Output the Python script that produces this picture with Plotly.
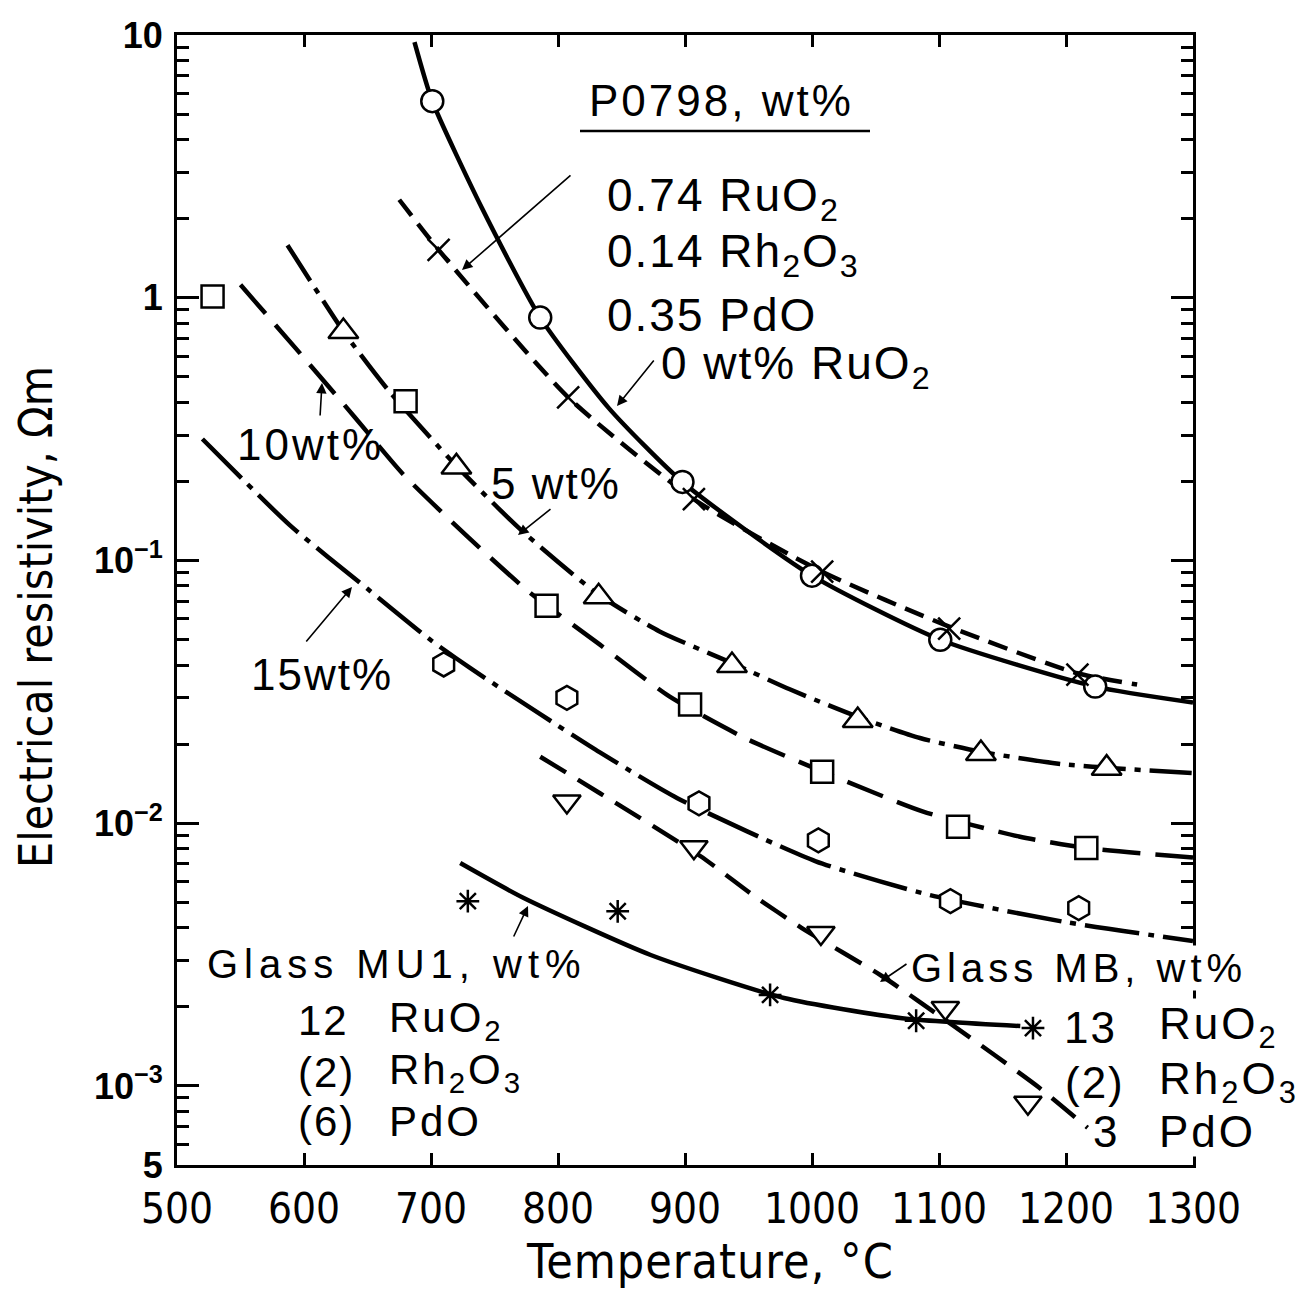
import plotly.graph_objects as go

# ---------------- data ----------------
# 0 wt% RuO2 (open circles, solid curve)
T_ru0 = [701, 786, 898, 1000, 1101, 1223]
R_ru0 = [5.6, 0.84, 0.199, 0.0875, 0.0499, 0.0331]
T_ru0_curve = [687, 701, 740, 786, 840, 898, 1000, 1101, 1223, 1300]
R_ru0_curve = [9.4, 5.6, 2.2, 0.84, 0.38, 0.199, 0.0875, 0.0499, 0.0331, 0.0288]

# P0798 (x marks, dashed curve)
T_p0798 = [706, 808, 907, 1008, 1108, 1209]
R_p0798 = [1.52, 0.418, 0.171, 0.0906, 0.055, 0.0368]
T_p0798_curve = [675, 706, 808, 907, 1008, 1108, 1209, 1256]
R_p0798_curve = [2.36, 1.52, 0.418, 0.171, 0.0906, 0.056, 0.0372, 0.0337]

# 5 wt% (triangles, dash-dot curve)
T_ru5 = [631, 720, 832, 937, 1036, 1133, 1232]
R_ru5 = [0.744, 0.227, 0.0728, 0.0398, 0.0246, 0.0184, 0.0162]
T_ru5_curve = [587, 631, 666, 720, 770, 832, 880, 937, 982, 1036, 1085, 1133, 1196, 1300]
R_ru5_curve = [1.585, 0.745, 0.447, 0.229, 0.1318, 0.0741, 0.0537, 0.0407, 0.0324, 0.0254,
               0.0211, 0.0187, 0.0168, 0.0155]

# 10 wt% (squares, long dashed curve)
T_ru10 = [528, 680, 791, 904, 1008, 1115, 1216]
R_ru10 = [1.01, 0.404, 0.0673, 0.0283, 0.0157, 0.0097, 0.00804]
T_ru10_curve = [550, 599, 640, 678, 729, 777, 833, 888, 948, 1008, 1087, 1163, 1216, 1300]
R_ru10_curve = [1.12, 0.598, 0.351, 0.213, 0.123, 0.076, 0.0478, 0.0303, 0.021, 0.01574,
                0.0111, 0.0089, 0.00804, 0.00741]

# 15 wt% (hexagons, dash-dot curve)
T_ru15 = [710, 807, 911, 1005, 1109, 1210]
R_ru15 = [0.0402, 0.030, 0.0119, 0.0086, 0.00505, 0.00475]
T_ru15_curve = [520, 589, 650, 699, 731, 786, 833, 894, 1003, 1093, 1200, 1300]
R_ru15_curve = [0.29, 0.136, 0.078, 0.0501, 0.0389, 0.026, 0.0186, 0.01245, 0.00716, 0.00532,
                0.0042, 0.00356]

# Glass MB (inverted triangles, long dashed curve)
T_mb = [807, 907, 1007, 1105, 1170]
R_mb = [0.0121, 0.0081, 0.00382, 0.00198, 0.000863]
T_mb_curve = [786, 833, 912, 954, 992, 1055, 1111, 1179, 1217]
R_mb_curve = [0.0179, 0.013, 0.0075, 0.0053, 0.00399, 0.00262, 0.0017, 0.000984, 0.000693]

# Glass MU1 (asterisks, solid curve)
T_mu1 = [729, 847, 967, 1082, 1174]
R_mu1 = [0.00505, 0.00462, 0.00222, 0.00177, 0.00166]
T_mu1_curve = [723, 773, 873, 978, 1071, 1164]
R_mu1_curve = [0.00705, 0.00519, 0.00315, 0.00216, 0.00181, 0.00169]

# axis ticks
x_tick_vals = [500, 600, 700, 800, 900, 1000, 1100, 1200, 1300]
y_tick_vals = [5e-4, 1e-3, 1e-2, 1e-1, 1, 10]
y_tick_text = ["5", "10<sup>−3</sup>", "10<sup>−2</sup>", "10<sup>−1</sup>", "1", "10"]
y_minor_vals = [6e-4, 7e-4, 8e-4, 9e-4,
                2e-3, 3e-3, 4e-3, 5e-3, 6e-3, 7e-3, 8e-3, 9e-3,
                2e-2, 3e-2, 4e-2, 5e-2, 6e-2, 7e-2, 8e-2, 9e-2,
                0.2, 0.3, 0.4, 0.5, 0.6, 0.7, 0.8, 0.9,
                2, 3, 4, 5, 6, 7, 8, 9]

# ---------------- figure ----------------
W, H = 1302, 1293
L, R, T, B = 177, 109, 35, 128
PW, PH = W - L - R, H - T - B

FONT = "Liberation Sans, Arial, sans-serif"
NARROW = "Liberation Sans Narrow, DejaVu Sans Condensed, Liberation Sans, Arial, sans-serif"
LW = 4.5

fig = go.Figure()

def curve(tx, ry, dash):
    fig.add_trace(go.Scatter(x=tx, y=ry, mode="lines",
                             line=dict(color="black", width=LW, dash=dash, shape="spline", smoothing=0.6),
                             showlegend=False, hoverinfo="skip"))

def marks(tx, ry, symbol, size, fill="white"):
    fig.add_trace(go.Scatter(x=tx, y=ry, mode="markers",
                             marker=dict(symbol=symbol, size=size, color=fill,
                                         line=dict(color="black", width=2.5)),
                             showlegend=False))

curve(T_ru0_curve, R_ru0_curve, "solid")
curve(T_p0798_curve, R_p0798_curve, "20px,10px")
curve(T_ru5_curve, R_ru5_curve, "42px,9px,6px,9px")
curve(T_ru10_curve, R_ru10_curve, "38px,15px")
curve(T_ru15_curve, R_ru15_curve, "55px,9px,6px,9px")
curve(T_mb_curve, R_mb_curve, "30px,14px")
curve(T_mu1_curve, R_mu1_curve, "solid")

marks(T_ru0, R_ru0, "circle", 22)
marks(T_p0798, R_p0798, "x-thin-open", 22, fill="black")
marks(T_ru5, R_ru5, "triangle-up", 26)
marks(T_ru10, R_ru10, "square", 22)
marks(T_ru15, R_ru15, "hexagon", 24)
marks(T_mb, R_mb, "triangle-down", 24)
marks(T_mu1, R_mu1, "asterisk-open", 19, fill="black")


def P(x, y):
    return (x - L) / PW, (T + PH - y) / PH


annotations = []

def text(x, y, s, size=40, xanchor="left", family=FONT, spacing=0, bg=None, angle=0):
    px, py = P(x, y)
    if spacing:
        s = '<span style="letter-spacing:%dpx">%s</span>' % (spacing, s)
    a = dict(x=px, y=py, xref="paper", yref="paper", text=s, showarrow=False,
             xanchor=xanchor, yanchor="middle", borderpad=0, textangle=angle,
             font=dict(family=family, size=size, color="black"))
    if bg:
        a["bgcolor"] = bg
    annotations.append(a)

def arrow(tail, tip):
    px, py = P(*tip)
    annotations.append(dict(x=px, y=py, xref="paper", yref="paper", text="",
                            showarrow=True, arrowhead=2, arrowsize=1.3, arrowwidth=1.6,
                            arrowcolor="black", ax=tail[0] - tip[0], ay=tail[1] - tip[1]))

# axis titles
text(710, 1261, "Temperature, °C", size=48, xanchor="center", family=NARROW, spacing=1)
text(36, 617, "Electrical resistivity, Ωm", size=46, xanchor="center", family=NARROW, angle=-90)

# P0798 block
text(588, 101, "P0798, wt%", size=44, spacing=3)
text(606, 198, "0.74 RuO<sub>2</sub>", size=46, spacing=2)
text(606, 255, "0.14 Rh<sub>2</sub>O<sub>3</sub>", size=46, spacing=2)
text(606, 315, "0.35 PdO", size=46, spacing=2)
text(660, 366, "0 wt% RuO<sub>2</sub>", size=46, spacing=2)
arrow((572, 174), (462, 270))
arrow((655, 359), (617, 406))

# curve labels
text(236, 444, "10wt%", size=44, spacing=3)
arrow((320, 417), (322, 383))
text(490, 483, "5 wt%", size=44, spacing=2)
arrow((552, 508), (518, 535))
text(250, 674, "15wt%", size=44, spacing=2)
arrow((305, 643), (352, 587))

# Glass MU1 block
text(206, 964, "Glass MU1, wt%", size=40, spacing=6)
arrow((513, 938), (528, 906))
text(350, 1020, "12", size=42, xanchor="right", spacing=2)
text(388, 1020, "RuO<sub>2</sub>", size=42, spacing=3)
text(356, 1072, "(2)", size=42, xanchor="right", spacing=2)
text(388, 1072, "Rh<sub>2</sub>O<sub>3</sub>", size=42, spacing=3)
text(356, 1121, "(6)", size=42, xanchor="right", spacing=2)
text(388, 1121, "PdO", size=42, spacing=3)

# Glass MB block (white boxes hide the right axis behind them, as in the original)
text(910, 968, "Glass MB, wt%", size=40, spacing=5, bg="white")
arrow((908, 963), (880, 982))
text(1118, 1027, "13", size=44, xanchor="right", spacing=2)
text(1158, 1027, "RuO<sub>2</sub>", size=44, spacing=3, bg="white")
text(1126, 1082, "(2)", size=44, xanchor="right", spacing=2)
text(1158, 1082, "Rh<sub>2</sub>O<sub>3</sub>", size=44, spacing=3, bg="white")
text(1118, 1131, "3", size=44, xanchor="right")
text(1158, 1131, "PdO", size=44, spacing=3, bg="white")

ux0, uy = P(580, 131)
ux1, _ = P(870, 131)

fig.update_layout(
    width=W, height=H,
    margin=dict(l=L, r=R, t=T, b=B, pad=0),
    plot_bgcolor="white", paper_bgcolor="white",
    annotations=annotations,
    shapes=[dict(type="line", xref="paper", yref="paper", x0=ux0, x1=ux1, y0=uy, y1=uy,
                 line=dict(color="black", width=2.5))],
    xaxis=dict(range=[500, 1300], tickvals=x_tick_vals, ticks="inside", ticklen=12, tickwidth=2.5,
               tickcolor="black", showline=True, linecolor="black", linewidth=3, mirror="ticks",
               showgrid=False, zeroline=False, ticklabelstandoff=5,
               tickfont=dict(family=NARROW, size=42, color="black")),
    yaxis=dict(type="log", range=[-3.30103, 1], tickvals=y_tick_vals, ticktext=y_tick_text,
               ticks="inside", ticklen=22, tickwidth=2.5, tickcolor="black",
               showline=True, linecolor="black", linewidth=3, mirror="ticks",
               showgrid=False, zeroline=False, ticklabelstandoff=4,
               minor=dict(tickvals=y_minor_vals, ticks="inside", ticklen=12, tickwidth=2.5,
                          tickcolor="black", showgrid=False),
               tickfont=dict(family=FONT, size=36, color="black", weight="bold")),
)

fig.write_html("out.html")
